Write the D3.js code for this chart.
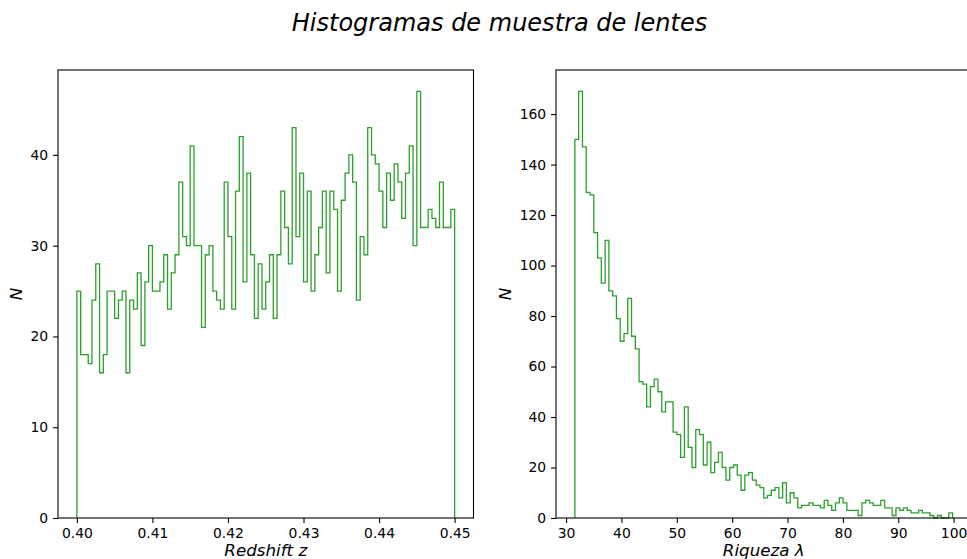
<!DOCTYPE html>
<html>
<head>
<meta charset="utf-8">
<script src="https://cdn.jsdelivr.net/npm/d3@7/dist/d3.min.js"></script>
<style>
  body { margin: 0; background: #fff; }
  text { font-family: "DejaVu Sans", sans-serif; fill: #000; }
</style>
</head>
<body>
<svg id="fig" width="967" height="559"></svg>
<script>
// histogram counts (100 bins each)
var zCounts = [
  25,18,18,17,24,28,16,18,25,25,
  22,24,25,16,24,23,27,19,26,30,
  25,25,26,29,23,27,29,37,31,30,
  41,30,30,21,29,30,25,24,23,37,
  31,23,36,42,26,38,29,22,28,23,
  26,29,22,29,36,32,28,43,31,38,
  26,36,25,29,32,36,27,36,34,25,
  35,38,40,37,24,31,29,43,40,39,
  36,32,38,35,39,37,33,38,41,30,
  47,32,32,34,33,32,37,32,32,34
];
var zRange = [0.40, 0.45];

var lamCounts = [
  150,169,147,129,128,113,103,93,110,90,
  88,79,70,73,87,72,67,54,53,44,
  52,55,50,42,46,46,34,33,24,44,
  28,20,35,33,21,30,18,22,26,20,
  15,20,21,17,11,17,18,15,13,12,
  8,9,11,12,8,14,6,10,8,4,
  5,5,6,5,5,4,7,5,3,6,
  8,6,3,3,3,1,6,7,6,5,
  5,7,4,4,1,4,3,4,3,2,
  2,3,2,2,1,0,1,0,0,2
];
var lamRange = [31.59, 99.82];

var zTicks = [0.40, 0.41, 0.42, 0.43, 0.44, 0.45];
var zYTicks = [0, 10, 20, 30, 40];
var lamTicks = [30, 40, 50, 60, 70, 80, 90, 100];
var lamYTicks = [0, 20, 40, 60, 80, 100, 120, 140, 160];

var svg = d3.select("#fig");
var top_ = 70, bottom_ = 518, axW = 415.5;
var green = "#2ca02c";

svg.append("text")
  .attr("x", 499.5).attr("y", 31)
  .attr("text-anchor", "middle")
  .style("font-size", "24px")
  .style("font-style", "italic")
  .text("Histogramas de muestra de lentes");

function drawPanel(left, counts, range, xTicks, yTicks, xFmt, xLabel, yLabelX) {
  var span = range[1] - range[0];
  var x = d3.scaleLinear()
    .domain([range[0] - 0.05 * span, range[1] + 0.05 * span])
    .range([left, left + axW]);
  var y = d3.scaleLinear()
    .domain([0, d3.max(counts) * 1.05])
    .range([bottom_, top_]);

  var edges = d3.range(counts.length + 1).map(function(i) {
    return range[0] + span * i / counts.length;
  });

  // step outline like histtype='step'
  var pts = [[edges[0], 0]];
  counts.forEach(function(c, i) {
    pts.push([edges[i], c]);
    pts.push([edges[i + 1], c]);
  });
  pts.push([edges[counts.length], 0]);

  var g = svg.append("g");

  g.append("path")
    .datum(pts)
    .attr("fill", "none")
    .attr("stroke", green)
    .attr("stroke-width", 1.3)
    .attr("d", d3.line()
      .x(function(d) { return x(d[0]); })
      .y(function(d) { return y(d[1]); }));

  var xAxis = g.append("g")
    .attr("transform", "translate(0," + bottom_ + ")")
    .call(d3.axisBottom(x).tickValues(xTicks).tickFormat(xFmt).tickSizeOuter(0).tickSize(4.9).tickPadding(4.9));
  var yAxis = g.append("g")
    .attr("transform", "translate(" + left + ",0)")
    .call(d3.axisLeft(y).tickValues(yTicks).tickSizeOuter(0).tickSize(4.9).tickPadding(4.9));

  [xAxis, yAxis].forEach(function(a) {
    a.select(".domain").remove();
    a.selectAll(".tick line").attr("stroke", "#000").attr("stroke-width", 1.1);
    a.selectAll(".tick text")
      .style("font-family", "'DejaVu Sans', sans-serif")
      .style("font-size", "13.9px")
      .attr("fill", "#000");
  });

  // frame
  g.append("rect")
    .attr("x", left).attr("y", top_)
    .attr("width", axW).attr("height", bottom_ - top_)
    .attr("fill", "none")
    .attr("stroke", "#000")
    .attr("stroke-width", 1.1);

  g.append("text")
    .attr("x", left + axW / 2).attr("y", 556)
    .attr("text-anchor", "middle")
    .style("font-size", "16.7px")
    .style("font-style", "italic")
    .text(xLabel);

  g.append("text")
    .attr("transform", "translate(" + yLabelX + "," + (top_ + bottom_) / 2 + ") rotate(-90)")
    .attr("text-anchor", "middle")
    .style("font-size", "16.7px")
    .style("font-style", "italic")
    .text("N");
}

drawPanel(58, zCounts, zRange, zTicks, zYTicks, d3.format(".2f"), "Redshift z", 22);
drawPanel(556, lamCounts, lamRange, lamTicks, lamYTicks, d3.format("d"), "Riqueza λ", 511);
</script>
</body>
</html>
